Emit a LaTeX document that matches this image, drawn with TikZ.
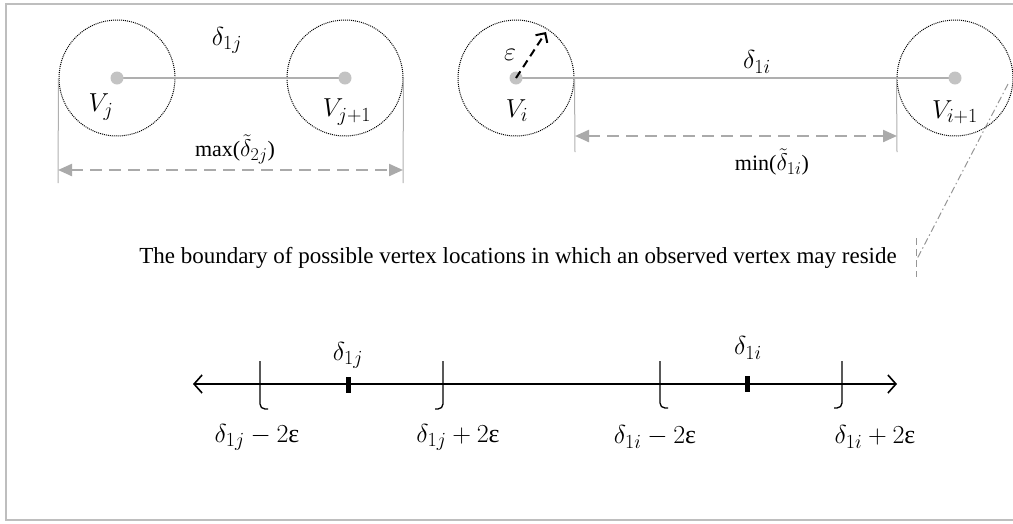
\RequirePackage{fix-cm}
\documentclass[tikz,border=0pt]{standalone}
\usepackage{fontspec}
\setmainfont{Liberation Serif}
\usetikzlibrary{arrows.meta}
\DeclareMathSizes{26}{26}{20}{15}
\DeclareMathSizes{22}{24}{18}{14}
\definecolor{framegray}{RGB}{190,190,190}
\definecolor{dotgray}{RGB}{195,195,195}
\definecolor{linegray}{RGB}{175,175,175}
\definecolor{dashgray}{RGB}{170,170,170}
\definecolor{dotdashgray}{RGB}{150,150,150}
\begin{document}
\begin{tikzpicture}[x=1pt,y=-1pt,
  vcirc/.style={circle, draw=black, densely dotted, line width=1pt, minimum size=116pt, inner sep=0pt},
  vdot/.style={circle, fill=dotgray, minimum size=13pt, inner sep=0pt},
  link/.style={draw=linegray, line width=1.3pt},
  guide/.style={draw=linegray, line width=1pt},
  dimarrow/.style={draw=dashgray, line width=2.2pt, dash pattern=on 12pt off 7pt,
     {Triangle[length=14pt,width=12pt]}-{Triangle[length=14pt,width=12pt]}},
  epsarrow/.style={draw=black, line width=2pt, dash pattern=on 8pt off 5pt, -{Straight Barb[length=7pt,width=14pt,line width=2pt]}},
  mlbl/.style={font=\fontsize{26}{30}\selectfont, inner sep=0pt},
  tlbl/.style={font=\fontsize{22}{26}\selectfont, inner sep=0pt},
  notelbl/.style={font=\fontsize{23}{27}\selectfont, inner sep=0pt},
  axisline/.style={draw=black, line width=1.6pt, {Straight Barb[length=8pt,width=18pt,line width=1.6pt]}-{Straight Barb[length=8pt,width=18pt,line width=1.6pt]}},
  brk/.style={draw=black, line width=1.3pt, rounded corners=5pt},
  tickmark/.style={rectangle, fill=black, minimum width=5pt, minimum height=16pt, inner sep=0pt},
  pointer/.style={draw=dotdashgray, line width=1pt, dash pattern=on 7pt off 3pt on 1.5pt off 3pt},
  pointerend/.style={draw=dotdashgray, line width=1pt, dash pattern=on 7pt off 4pt}
]
\useasboundingbox (0,0) rectangle (1013,523);
% frame
\draw[framegray, line width=2pt] (1014,4) -- (6,4) -- (6,520) -- (1014,520);

% ---- left pair ----
\node[vcirc] (cj)  at (117,78) {};
\node[vcirc] (cj1) at (345,78) {};
\draw[link] (117,78) coordinate (pj) -- (345,78) coordinate (pj1);
\node[vdot] (dj)  at (pj) {};
\node[vdot] (dj1) at (pj1) {};
\node[mlbl] (lj)  at (101,107) {$V_j$};
\node[mlbl] (lj1) at (347,112) {$V_{j+1}$};
\node[mlbl] (d1j) at (227,40) {$\delta_{1j}$};
\coordinate (gjl) at (58,183);
\coordinate (gjr) at (403,183);
\draw[guide] (cj.west) -- (gjl);
\draw[guide] (cj1.east) -- (gjr);
\coordinate (ajl) at (58,170);
\coordinate (ajr) at (403,170);
\draw[dimarrow] (ajl) -- (ajr);
\node[tlbl] (mx) at (235,149) {max($\tilde{\delta}_{2j}$)};

% ---- right pair ----
\node[vcirc] (ci)  at (516,78) {};
\node[vcirc] (ci1) at (955,78) {};
\draw[link] (516,78) coordinate (pi) -- (955,78) coordinate (pi1);
\node[vdot] (di)  at (pi) {};
\node[vdot] (di1) at (pi1) {};
\coordinate (epsend) at (546,32);
\draw[epsarrow] (di.center) -- (epsend);
\node[mlbl] (eps) at (510,55) {$\varepsilon$};
\node[mlbl] (li)  at (517,111) {$V_i$};
\node[mlbl] (li1) at (955,112) {$V_{i+1}$};
\node[mlbl] (d1i) at (757,62) {$\delta_{1i}$};
\coordinate (gil) at (575,152);
\coordinate (gir) at (897,152);
\draw[guide] (ci.east) -- (gil);
\draw[guide] (ci1.west) -- (gir);
\coordinate (ail) at (575,136);
\coordinate (air) at (897,136);
\draw[dimarrow] (ail) -- (air);
\node[tlbl] (mn) at (772,162) {min($\tilde{\delta}_{1i}$)};

% ---- boundary note ----
\node[notelbl] (note) at (518,258) {The boundary of possible vertex locations in which an observed vertex may reside};
\coordinate (pstart) at (1008,84);
\coordinate (pend) at (917,259);
\draw[pointer] (pstart) -- (pend);
\coordinate (pvt) at (916,238);
\coordinate (pvb) at (916,277);
\draw[pointerend] (pvt) -- (pvb);

% ---- number line ----
\coordinate (axl) at (193,384);
\coordinate (axr) at (897,384);
\draw[axisline] (axl) -- (axr);
\draw[brk] (260,361) -- (260,409) -- (268,409);
\draw[brk] (443,361) -- (443,409) -- (435,409);
\draw[brk] (660,361) -- (660,408) -- (668,408);
\draw[brk] (842,361) -- (842,408) -- (834,408);
\node[tickmark] (tj) at (348,385) {};
\node[tickmark] (ti) at (747,384) {};
\node[mlbl] (tlj) at (348,355) {$\delta_{1j}$};
\node[mlbl] (tli) at (748,348) {$\delta_{1i}$};
\node[mlbl] (bjm) at (257,437) {$\delta_{1j} - 2\mbox{ε}$};
\node[mlbl] (bjp) at (458,437) {$\delta_{1j} + 2\mbox{ε}$};
\node[mlbl] (bim) at (655,437) {$\delta_{1i} - 2\mbox{ε}$};
\node[mlbl] (bip) at (875,437) {$\delta_{1i} + 2\mbox{ε}$};
\end{tikzpicture}
\end{document}
